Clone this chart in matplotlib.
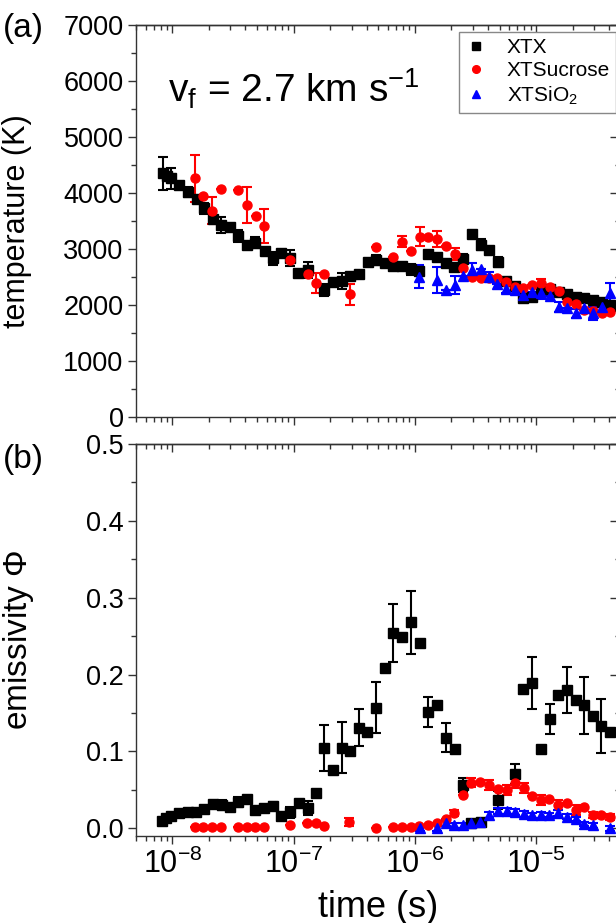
import matplotlib
matplotlib.use("Agg")
import matplotlib.pyplot as plt
from matplotlib.lines import Line2D
from matplotlib.ticker import LogLocator, MultipleLocator, NullFormatter, FormatStrFormatter

plt.rcParams['font.family'] = ['Liberation Sans', 'DejaVu Sans']
plt.rcParams['mathtext.fontset'] = 'custom'
plt.rcParams['mathtext.rm'] = 'Liberation Sans'
plt.rcParams['mathtext.it'] = 'Liberation Sans:italic'

# ---- (a) temperature ----
t_xtx_a = [8.33e-9, 9.04e-9, 9.76e-9, 1.14e-8, 1.355e-8, 1.583e-8, 1.825e-8, 2.145e-8, 2.52e-8, 2.99e-8,
           3.50e-8, 4.11e-8, 4.81e-8, 5.74e-8, 6.73e-8, 7.87e-8, 9.34e-8, 1.093e-7, 1.307e-7, 1.79e-7,
           2.10e-7, 2.49e-7, 2.92e-7, 3.44e-7, 4.07e-7, 4.78e-7, 5.61e-7, 6.64e-7, 7.78e-7, 9.25e-7,
           1.087e-6, 1.29e-6, 1.512e-6, 1.788e-6, 2.113e-6, 2.477e-6, 2.94e-6, 3.475e-6, 4.08e-6, 4.80e-6,
           5.64e-6, 6.62e-6, 7.83e-6, 9.23e-6, 1.095e-5, 1.30e-5, 1.532e-5, 1.805e-5, 2.117e-5, 2.49e-5,
           2.92e-5, 3.47e-5, 4.06e-5, 4.75e-5]
T_xtx = [4352, 4304, 4263, 4143, 4023, 3893, 3727, 3536, 3429, 3388,
         3232, 3071, 3113, 2970, 2834, 2934, 2845, 2577, 2625, 2268,
         2416, 2429, 2523, 2554, 2759, 2804, 2745, 2696, 2696, 2634,
         2607, 2911, 2862, 2755, 2684, 2821, 3263, 3080, 2982, 2763,
         2429, 2339, 2125, 2148, 2277, 2277, 2241, 2191, 2148, 2120,
         2089, 2059, 2000, 1982]
T_xtx_err = [295, 0, 190, 0, 90, 0, 100, 0, 140, 0,
             100, 0, 100, 0, 120, 0, 140, 0, 140, 100,
             0, 140, 0, 0, 0, 90, 0, 70, 0, 90,
             0, 0, 0, 0, 0, 90, 0, 90, 0, 90,
             0, 0, 0, 60, 0, 0, 0, 0, 0, 0,
             0, 0, 0, 0]

t_suc_a = [1.52e-8, 1.80e-8, 2.11e-8, 2.49e-8, 3.46e-8, 4.13e-8, 4.87e-8, 5.70e-8, 9.34e-8, 1.307e-7,
           1.53e-7, 1.79e-7, 2.93e-7, 4.81e-7, 6.64e-7, 7.83e-7, 9.23e-7, 1.096e-6, 1.29e-6, 1.52e-6,
           1.80e-6, 2.13e-6, 2.50e-6, 2.94e-6, 3.50e-6, 4.08e-6, 4.78e-6, 5.64e-6, 6.67e-6, 7.83e-6,
           9.26e-6, 1.095e-5, 1.30e-5, 1.53e-5, 1.805e-5, 2.12e-5, 2.49e-5, 2.92e-5, 3.47e-5, 4.06e-5]
T_suc = [4262, 3946, 3684, 4077, 4048, 3786, 3589, 3416, 2804, 2554,
         2398, 2554, 2191, 3030, 2862, 3130, 2970, 3220, 3220, 3179,
         3054, 2905, 2667, 2506, 2488, 2477, 2477, 2416, 2327, 2298,
         2357, 2398, 2327, 2255, 2059, 2018, 1911, 1893, 1863, 1881]
T_suc_err = [420, 0, 245, 0, 0, 320, 0, 305, 0, 0,
             180, 0, 190, 0, 0, 100, 0, 165, 0, 135,
             0, 105, 0, 0, 0, 0, 0, 0, 0, 0,
             0, 60, 0, 0, 0, 0, 0, 0, 0, 0]

t_sio_a = [1.087e-6, 1.52e-6, 1.80e-6, 2.13e-6, 2.50e-6, 2.94e-6, 3.50e-6, 4.08e-6, 4.78e-6, 5.64e-6,
           6.67e-6, 7.83e-6, 9.26e-6, 1.095e-5, 1.30e-5, 1.53e-5, 1.805e-5, 2.12e-5, 2.49e-5, 2.92e-5,
           3.47e-5, 4.06e-5]
T_sio = [2506, 2446, 2268, 2357, 2518, 2625, 2637, 2506, 2375, 2280,
         2268, 2179, 2238, 2220, 2166, 1970, 1941, 1851, 1941, 1851,
         1970, 2208]
T_sio_err = [210, 225, 0, 155, 0, 120, 0, 90, 0, 60,
             0, 60, 0, 105, 0, 90, 0, 85, 0, 110,
             0, 180]

# ---- (b) emissivity ----
t_xtx_b = [8.18e-9, 8.87e-9, 9.70e-9, 1.14e-8, 1.34e-8, 1.57e-8, 1.83e-8, 2.15e-8, 2.55e-8, 2.99e-8,
           3.50e-8, 4.11e-8, 4.81e-8, 5.70e-8, 6.73e-8, 7.87e-8, 9.34e-8, 1.105e-7, 1.307e-7, 1.53e-7,
           1.79e-7, 2.10e-7, 2.49e-7, 2.92e-7, 3.44e-7, 4.05e-7, 4.78e-7, 5.65e-7, 6.64e-7, 7.86e-7,
           9.25e-7, 1.09e-6, 1.29e-6, 1.52e-6, 1.80e-6, 2.13e-6, 2.50e-6, 2.92e-6, 3.47e-6, 4.82e-6,
           6.67e-6, 7.83e-6, 9.26e-6, 1.095e-5, 1.29e-5, 1.52e-5, 1.79e-5, 2.12e-5, 2.49e-5, 2.92e-5,
           3.43e-5, 4.06e-5]
E_xtx = [0.0099, 0.013, 0.016, 0.0195, 0.021, 0.0216, 0.0247, 0.0316, 0.0303, 0.028,
         0.0346, 0.038, 0.0238, 0.026, 0.0294, 0.0164, 0.0208, 0.0333, 0.026, 0.0455,
         0.1048, 0.0758, 0.1048, 0.1005, 0.131, 0.125, 0.157, 0.209, 0.2544, 0.249,
         0.268, 0.2414, 0.1516, 0.160, 0.118, 0.1027, 0.0563, 0.0073, 0.0086, 0.0368,
         0.0706, 0.181, 0.1885, 0.1027, 0.1417, 0.173, 0.18, 0.167, 0.160, 0.1464,
         0.133, 0.125]
E_xtx_err = [0.004, 0, 0, 0, 0, 0, 0, 0, 0.006, 0,
             0.0065, 0, 0.004, 0, 0.005, 0, 0.0075, 0, 0.009, 0,
             0.03, 0, 0.033, 0, 0.024, 0, 0.033, 0, 0.0375, 0,
             0.0414, 0, 0.0195, 0, 0.019, 0, 0.0095, 0.002, 0.002, 0.0115,
             0.0125, 0, 0.0338, 0, 0.0195, 0, 0.0303, 0, 0.037, 0,
             0.0347, 0]

t_suc_b = [1.54e-8, 1.80e-8, 2.12e-8, 2.51e-8, 3.50e-8, 4.11e-8, 4.83e-8, 5.70e-8, 9.34e-8, 1.28e-7,
           1.52e-7, 1.79e-7, 2.88e-7, 4.78e-7, 6.64e-7, 7.78e-7, 9.23e-7, 1.087e-6, 1.29e-6, 1.51e-6,
           1.79e-6, 2.10e-6, 2.48e-6, 2.88e-6, 3.44e-6, 4.08e-6, 4.82e-6, 5.71e-6, 6.69e-6, 7.94e-6,
           9.30e-6, 1.096e-5, 1.28e-5, 1.52e-5, 1.78e-5, 2.12e-5, 2.48e-5, 2.92e-5, 3.42e-5, 4.06e-5]
E_suc = [0.002, 0.002, 0.002, 0.002, 0.002, 0.002, 0.002, 0.002, 0.004, 0.0065,
         0.0065, 0.003, 0.0086, 0.0, 0.002, 0.002, 0.002, 0.003, 0.004, 0.0065,
         0.012, 0.0195, 0.0433, 0.0593, 0.0606, 0.0563, 0.0507, 0.0498, 0.0585, 0.052,
         0.0424, 0.0368, 0.0377, 0.0303, 0.0333, 0.0238, 0.0273, 0.0173, 0.0173, 0.0151]
E_suc_err = [0, 0, 0, 0, 0, 0, 0, 0, 0, 0,
             0, 0, 0.005, 0, 0, 0, 0, 0, 0, 0,
             0, 0.004, 0, 0.006, 0, 0.006, 0, 0.0065, 0.006, 0.0065,
             0, 0.0065, 0, 0.006, 0, 0.006, 0, 0.004, 0, 0.004]

t_sio_b = [1.10e-6, 1.51e-6, 1.79e-6, 2.10e-6, 2.48e-6, 2.88e-6, 3.44e-6, 4.08e-6, 4.82e-6, 5.71e-6,
           6.69e-6, 7.94e-6, 9.30e-6, 1.096e-5, 1.28e-5, 1.52e-5, 1.78e-5, 2.12e-5, 2.48e-5, 2.92e-5,
           4.06e-5]
E_sio = [0.0, 0.0, 0.0065, 0.004, 0.004, 0.0065, 0.0086, 0.0173, 0.0225, 0.022,
         0.0208, 0.019, 0.017, 0.0173, 0.0173, 0.0195, 0.0151, 0.012, 0.0056, 0.004,
         0.0]
E_sio_err = [0.004, 0.004, 0.004, 0.003, 0.003, 0.003, 0.003, 0.004, 0.004, 0.004,
             0.004, 0.004, 0.003, 0.004, 0.003, 0.004, 0.003, 0.003, 0.003, 0.003,
             0.003]

series_labels = ['XTX', 'XTSucrose', 'XTSiO$_2$']
series_colors = ['black', 'red', 'blue']
series_markers = ['s', 'o', '^']
x_ticks = [1e-8, 1e-7, 1e-6, 1e-5]
x_ticklabels = ['$\\mathregular{10^{-8}}$', '$\\mathregular{10^{-7}}$',
                '$\\mathregular{10^{-6}}$', '$\\mathregular{10^{-5}}$']

W, H = 616, 923
fig = plt.figure(figsize=(W / 100, H / 100), dpi=100)
left, right = 136, 621
ax1 = fig.add_axes([left / W, 1 - 417 / H, (right - left) / W, (417 - 25) / H])
ax2 = fig.add_axes([left / W, 1 - 836 / H, (right - left) / W, (836 - 444) / H])


def draw(ax, t, v, e, i):
    ax.errorbar(t, v, yerr=e, fmt=series_markers[i], color=series_colors[i], ms=6.5,
                elinewidth=1.5, capsize=3.5, capthick=1.5, clip_on=False)


draw(ax1, t_xtx_a, T_xtx, T_xtx_err, 0)
draw(ax1, t_suc_a, T_suc, T_suc_err, 1)
draw(ax1, t_sio_a, T_sio, T_sio_err, 2)
draw(ax2, t_xtx_b, E_xtx, E_xtx_err, 0)
draw(ax2, t_suc_b, E_suc, E_suc_err, 1)
draw(ax2, t_sio_b, E_sio, E_sio_err, 2)

ax1.set_ylim(0, 7000)
ax2.set_ylim(-0.01, 0.5)
y_major = [1000, 0.1]
y_minor = [500, 0.05]

for k, ax in enumerate((ax1, ax2)):
    ax.set_xscale('log')
    ax.set_xlim(5e-9, 5e-5)
    ax.set_xticks(x_ticks)
    ax.xaxis.set_minor_locator(LogLocator(base=10, subs=range(2, 10), numticks=20))
    ax.xaxis.set_minor_formatter(NullFormatter())
    ax.yaxis.set_major_locator(MultipleLocator(y_major[k]))
    ax.yaxis.set_minor_locator(MultipleLocator(y_minor[k]))
    ax.tick_params(which='both', direction='out', width=1, color='#333333')
    ax.tick_params(which='major', length=6)
    ax.tick_params(which='minor', length=3.5)
    ax.tick_params(axis='y', labelsize=19.5, pad=3)
    ax.tick_params(axis='x', labelsize=22, pad=3)
    for sp in ax.spines.values():
        sp.set_linewidth(1.0)
        sp.set_color('#333333')

    top = ax.secondary_xaxis('top')
    top.set_xticks(x_ticks)
    top.xaxis.set_minor_locator(LogLocator(base=10, subs=range(2, 10), numticks=20))
    top.xaxis.set_minor_formatter(NullFormatter())
    top.tick_params(which='both', direction='in', labeltop=False, width=1, color='#333333')
    top.tick_params(which='major', length=6)
    top.tick_params(which='minor', length=3.5)
    top.spines['top'].set_linewidth(1.0)
    top.spines['top'].set_color('#333333')

    rgt = ax.secondary_yaxis('right')
    rgt.yaxis.set_major_locator(MultipleLocator(y_major[k]))
    rgt.yaxis.set_minor_locator(MultipleLocator(y_minor[k]))
    rgt.tick_params(which='both', direction='in', labelright=False, width=1, color='#333333')
    rgt.tick_params(which='major', length=8)
    rgt.tick_params(which='minor', length=4)

ax1.tick_params(axis='x', labelbottom=False)
ax1.set_ylabel('temperature (K)', fontsize=22)
ax1.yaxis.set_label_coords((32 - left) / (right - left), 0.5)

ax2.yaxis.set_major_formatter(FormatStrFormatter('%.1f'))
ax2.set_ylabel('emissivity $\\Phi$', fontsize=24)
ax2.yaxis.set_label_coords((36 - left) / (right - left), 0.5)
ax2.set_xticklabels(x_ticklabels)

fig.text(378.5 / W, 1 - 917 / H, 'time (s)', fontsize=26, ha='center', va='baseline')
fig.text(3 / W, 1 - 37 / H, '(a)', fontsize=24, ha='left', va='baseline')
fig.text(3 / W, 1 - 468 / H, '(b)', fontsize=24, ha='left', va='baseline')
fig.text(168 / W, 1 - 103 / H, 'v$_\\mathregular{f}$ = 2.7 km s$^\\mathregular{-1}$', fontsize=28,
         ha='left', va='baseline')

handles = [Line2D([], [], ls='none', marker=series_markers[i], color=series_colors[i], ms=5.5)
           for i in range(3)]
leg = ax1.legend(handles, series_labels, loc='upper left', bbox_to_anchor=(459 / W, 1 - 32 / H),
                 bbox_transform=fig.transFigure, fontsize=15, frameon=True, fancybox=False,
                 edgecolor='#888888', framealpha=1, handlelength=1.0, handletextpad=1.0,
                 labelspacing=0.2, borderpad=0.3, borderaxespad=0)
leg.get_frame().set_linewidth(1.0)

fig.savefig('out.png', dpi=100)
